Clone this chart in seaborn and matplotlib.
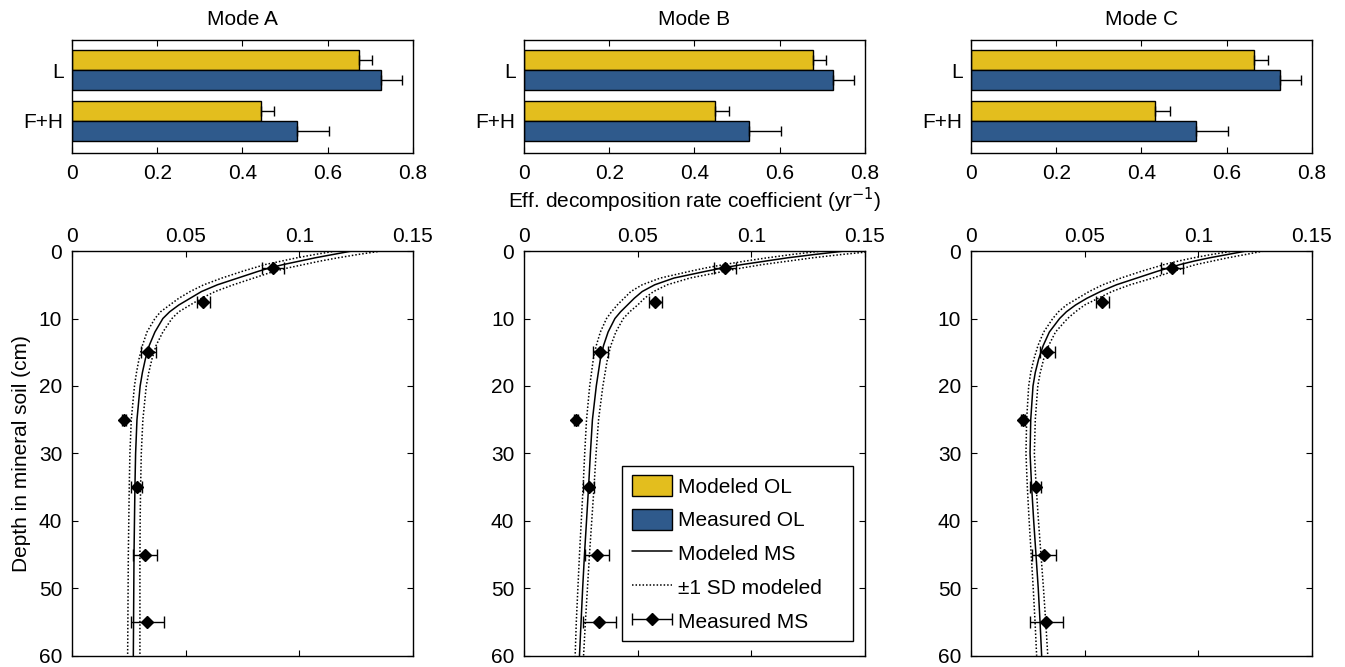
import matplotlib
matplotlib.use("Agg")
import pandas as pd
import matplotlib.pyplot as plt
import seaborn as sns
from matplotlib.patches import Patch
from matplotlib.lines import Line2D
from matplotlib.legend_handler import HandlerErrorbar

sns.set_style("ticks")
plt.rcParams['font.family'] = ['Liberation Sans', 'DejaVu Sans']
plt.rcParams['font.size'] = 15
plt.rcParams['text.color'] = 'k'
plt.rcParams['axes.labelcolor'] = 'k'
plt.rcParams['axes.linewidth'] = 1.0
plt.rcParams['xtick.direction'] = 'in'
plt.rcParams['ytick.direction'] = 'in'
plt.rcParams['xtick.major.size'] = 4
plt.rcParams['ytick.major.size'] = 4
plt.rcParams['xtick.color'] = 'k'
plt.rcParams['ytick.color'] = 'k'
plt.rcParams['axes.edgecolor'] = 'k'

# --- data ---
modes = ["Mode A", "Mode B", "Mode C"]
layers = ["L", "F+H"]

# organic layer (OL) decomposition rate coefficients (yr^-1)
modeled_ol_a = [0.673, 0.443]
modeled_ol_b = [0.677, 0.448]
modeled_ol_c = [0.664, 0.433]
modeled_ol_err_a = [0.030, 0.032]
modeled_ol_err_b = [0.032, 0.032]
modeled_ol_err_c = [0.032, 0.033]
measured_ol = [0.725, 0.528]
measured_ol_err = [0.050, 0.075]

# mineral soil (MS) measurements
depth_obs = [2.5, 7.5, 15, 25, 35, 45, 55]
k_obs = [0.0884, 0.0578, 0.0336, 0.0229, 0.0285, 0.0323, 0.0332]
k_obs_err = [0.0050, 0.0030, 0.0033, 0.0010, 0.0025, 0.0053, 0.0074]

# modeled MS profiles
depth_mod = [0, 0.5, 1, 1.5, 2, 2.5, 3, 4, 5, 6, 7, 8, 9, 10, 12, 14, 16, 18,
             20, 25, 30, 35, 40, 45, 50, 55, 60]
k_mod_a = [0.123, 0.115, 0.107, 0.100, 0.093, 0.087, 0.082, 0.073, 0.064, 0.057,
           0.052, 0.047, 0.043, 0.040, 0.0365, 0.034, 0.0323, 0.031, 0.0300,
           0.0286, 0.0280, 0.0277, 0.0275, 0.0273, 0.0272, 0.0271, 0.0270]
k_lo_a = [0.116, 0.107, 0.099, 0.092, 0.085, 0.080, 0.075, 0.066, 0.058, 0.052,
          0.047, 0.043, 0.039, 0.0365, 0.033, 0.031, 0.0295, 0.0284, 0.0275,
          0.0261, 0.0255, 0.0252, 0.0250, 0.0248, 0.0247, 0.0246, 0.0245]
k_hi_a = [0.136, 0.126, 0.117, 0.109, 0.102, 0.095, 0.089, 0.080, 0.071, 0.063,
          0.057, 0.052, 0.047, 0.044, 0.040, 0.037, 0.0352, 0.0338, 0.0327,
          0.0312, 0.0305, 0.0302, 0.0300, 0.0299, 0.0299, 0.0299, 0.0299]
k_mod_b = [0.141, 0.128, 0.116, 0.106, 0.096, 0.0874, 0.080, 0.066, 0.0575, 0.052,
           0.0485, 0.0455, 0.0425, 0.040, 0.037, 0.035, 0.0336, 0.0327, 0.0318,
           0.0301, 0.0292, 0.0284, 0.0275, 0.0266, 0.0258, 0.0251, 0.0244]
k_lo_b = [0.131, 0.118, 0.107, 0.097, 0.088, 0.080, 0.073, 0.060, 0.052, 0.047,
          0.044, 0.041, 0.0385, 0.0363, 0.0336, 0.0318, 0.0305, 0.0297, 0.0289,
          0.0275, 0.0267, 0.0260, 0.0252, 0.0244, 0.0237, 0.0230, 0.0225]
k_hi_b = [0.155, 0.140, 0.127, 0.116, 0.105, 0.096, 0.088, 0.073, 0.063, 0.057,
          0.053, 0.050, 0.0465, 0.0437, 0.0404, 0.0382, 0.0367, 0.0357, 0.0347,
          0.0328, 0.0317, 0.0308, 0.0298, 0.0288, 0.0279, 0.0270, 0.0262]
k_mod_c = [0.121, 0.113, 0.105, 0.098, 0.092, 0.087, 0.082, 0.073, 0.064, 0.057,
           0.051, 0.046, 0.042, 0.039, 0.0345, 0.0318, 0.0298, 0.0283, 0.0273,
           0.0263, 0.0260, 0.0267, 0.0276, 0.0286, 0.0296, 0.0304, 0.0311]
k_lo_c = [0.1155, 0.106, 0.098, 0.091, 0.085, 0.080, 0.075, 0.066, 0.058, 0.052,
          0.047, 0.042, 0.0385, 0.036, 0.032, 0.0295, 0.0277, 0.0263, 0.0254,
          0.0245, 0.0242, 0.0248, 0.0256, 0.0265, 0.0274, 0.0282, 0.0289]
k_hi_c = [0.1287, 0.121, 0.113, 0.106, 0.099, 0.094, 0.089, 0.080, 0.070, 0.062,
          0.056, 0.050, 0.046, 0.0425, 0.0372, 0.0342, 0.032, 0.0305, 0.0294,
          0.0283, 0.0279, 0.0287, 0.0297, 0.0308, 0.0319, 0.0329, 0.0338]

modeled_ol = [modeled_ol_a, modeled_ol_b, modeled_ol_c]
modeled_ol_err = [modeled_ol_err_a, modeled_ol_err_b, modeled_ol_err_c]
k_mod = [k_mod_a, k_mod_b, k_mod_c]
k_lo = [k_lo_a, k_lo_b, k_lo_c]
k_hi = [k_hi_a, k_hi_b, k_hi_c]

yellow = '#E3BE1E'
blue = '#2F5A8C'
dots = (1, 1.3)

fig = plt.figure(figsize=(13.45, 6.67), dpi=100)
lefts = [0.0535, 0.3896, 0.7219]
width = 0.2535

for i, mode in enumerate(modes):
    # --- top: organic layer bars ---
    ax = fig.add_axes([lefts[i], 0.7706, width, 0.1694])
    df = pd.DataFrame({
        'layer': layers * 2,
        'source': ['Modeled OL'] * 2 + ['Measured OL'] * 2,
        'value': modeled_ol[i] + measured_ol,
        'err': modeled_ol_err[i] + measured_ol_err,
    })
    sns.barplot(data=df, x='value', y='layer', hue='source', orient='h',
                palette=[yellow, blue], saturation=1, edgecolor='k',
                linewidth=1, width=0.8, errorbar=None, legend=False, ax=ax)
    for cont, src in zip(ax.containers, ['Modeled OL', 'Measured OL']):
        errs = df.loc[df['source'] == src, 'err'].tolist()
        for patch, e in zip(cont.patches, errs):
            ax.errorbar(patch.get_width(), patch.get_y() + patch.get_height() / 2,
                        xerr=[[0], [e]], fmt='none', ecolor='k', elinewidth=1,
                        capsize=3.8, capthick=1)
    ax.set_xlim(0, 0.8)
    ax.set_ylim(1.63, -0.59)
    ax.set_xticks([0, 0.2, 0.4, 0.6, 0.8])
    ax.set_xticklabels(['0', '0.2', '0.4', '0.6', '0.8'])
    ax.tick_params(top=True, right=False, left=False, labelsize=15)
    ax.tick_params(axis='x', pad=8)
    ax.tick_params(axis='y', pad=6)
    ax.set_ylabel('')
    ax.set_xlabel('')
    ax.set_title(mode, fontsize=15, pad=11, color='k')
    for s in ax.spines.values():
        s.set_visible(True)
    if i == 1:
        ax.set_xlabel('Eff. decomposition rate coefficient (yr$^{-1}$)', fontsize=15,
                      labelpad=2)

    # --- bottom: mineral soil profile ---
    ax2 = fig.add_axes([lefts[i], 0.0169, width, 0.6067])
    sns.lineplot(x=k_lo[i], y=depth_mod, sort=False, estimator=None, color='k',
                 dashes=dots, linewidth=1.1, ax=ax2)
    sns.lineplot(x=k_hi[i], y=depth_mod, sort=False, estimator=None, color='k',
                 dashes=dots, linewidth=1.1, ax=ax2)
    sns.lineplot(x=k_mod[i], y=depth_mod, sort=False, estimator=None, color='k',
                 linewidth=1.1, ax=ax2)
    eb = ax2.errorbar(k_obs, depth_obs, xerr=k_obs_err, fmt='D', color='k',
                      markersize=6.5, elinewidth=1, capsize=4, capthick=1)
    ax2.set_xlim(0, 0.15)
    ax2.set_ylim(60, 0)
    ax2.set_xticks([0, 0.05, 0.1, 0.15])
    ax2.set_xticklabels(['0', '0.05', '0.1', '0.15'])
    ax2.set_yticks(range(0, 61, 10))
    ax2.tick_params(top=True, bottom=True, left=True, right=True,
                    labeltop=True, labelbottom=False, labelsize=15)
    ax2.tick_params(axis='y', pad=7)
    for s in ax2.spines.values():
        s.set_visible(True)
    if i == 0:
        ax2.set_ylabel('Depth in mineral soil (cm)', fontsize=15, labelpad=6)
    if i == 1:
        handles = [
            Patch(facecolor=yellow, edgecolor='k', linewidth=1),
            Patch(facecolor=blue, edgecolor='k', linewidth=1),
            Line2D([], [], color='k', linewidth=1.1),
            Line2D([], [], color='k', linewidth=1.1, dashes=dots),
            eb,
        ]
        labels = ['Modeled OL', 'Measured OL', 'Modeled MS', '\u00b11 SD modeled',
                  'Measured MS']
        ax2.legend(handles, labels, loc='lower left',
                   bbox_to_anchor=(0.288, 0.036, 0.677, 0.44), mode='expand',
                   borderaxespad=0, fancybox=False, edgecolor='k', framealpha=1,
                   fontsize=15, handlelength=1.95, handleheight=1.2,
                   labelspacing=0.58, handletextpad=0.3, borderpad=0.45,
                   handler_map={eb: HandlerErrorbar(xerr_size=0.95)})

fig.savefig('out.png', dpi=100)
